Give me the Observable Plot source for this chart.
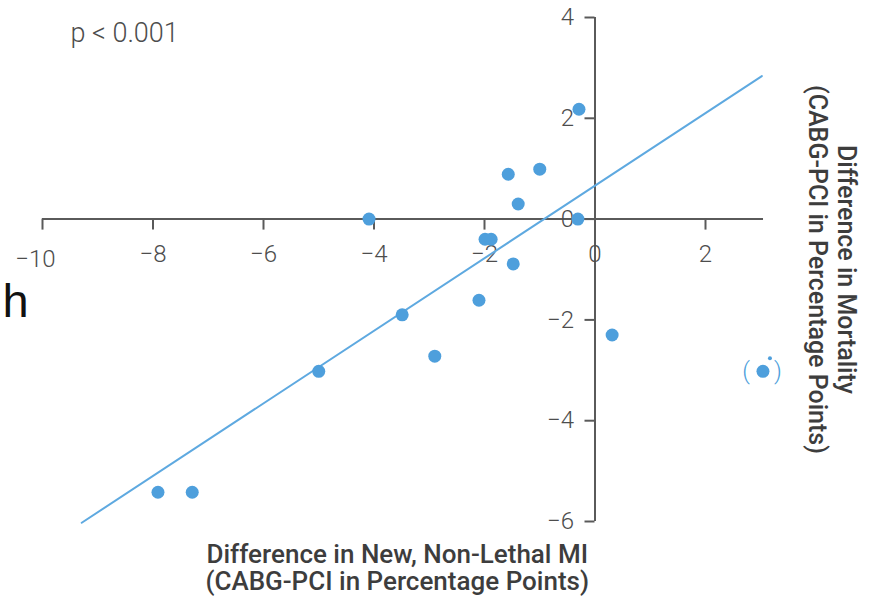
<!DOCTYPE html>
<html>
<head>
<meta charset="utf-8">
<script src="https://cdn.jsdelivr.net/npm/d3@7"></script>
<script src="https://cdn.jsdelivr.net/npm/@observablehq/plot@0.6"></script>
<style>
  html, body { margin: 0; padding: 0; background: #ffffff; }
  #chart { width: 869px; height: 599px; overflow: hidden; }
  #chart svg { overflow: visible; }
</style>
</head>
<body>
<div id="chart"></div>
<script>
// ---- Data ----
const newMI     = [-0.29, -1.0, -1.57, -1.39, -4.09, -0.31, -1.99, -1.88, -1.48, -2.10, -3.49, -2.90, 0.31, -5.0, -7.91, -7.29];
const mortality = [ 2.18,  0.99, 0.89,  0.30,  0.0,   0.0,  -0.40, -0.40, -0.89, -1.61, -1.90, -2.72, -2.30, -3.02, -5.42, -5.42];
const outlierMI = [3.04];
const outlierMortality = [-3.02];
const xTicks = [-10, -8, -6, -4, -2, 0, 2];
const yTicks = [4, 2, 0, -2, -4, -6];
const fitSlope = 0.72;
const fitIntercept = 0.664;
const fitRange = [-9.29, 3.02];
const xAxisExtent = [-10, 3.05];
const yAxisExtent = [-6, 4];
const pLabel = ["p < 0.001"];
const xTitle = ["Difference in New, Non-Lethal MI\n(CABG-PCI in Percentage Points)"];
const yTitle = ["Difference in Mortality\n(CABG-PCI in Percentage Points)"];
const strayLetter = ["h"];

// ---- Derived tables ----
const points = newMI.map((x, i) => ({x, y: mortality[i]}));
const outlier = outlierMI.map((x, i) => ({x, y: outlierMortality[i]}));
const fit = fitRange.map(x => ({x, y: fitSlope * x + fitIntercept}));
const fmt = d => (d < 0 ? "\u2212" + Math.abs(d) : String(d));

const axisColor = "#5a5a5a";
const textColor = "#4d4d4d";
const titleColor = "#3d3d3d";
const blue = "#4e9fdc";
const lineBlue = "#5ea9e0";
const tickFont = "Roboto, 'Open Sans', sans-serif";
const titleFont = "Roboto, 'Open Sans', sans-serif";

const chart = Plot.plot({
  width: 869,
  height: 599,
  marginLeft: 42,
  marginRight: 53.5,
  marginTop: 17,
  marginBottom: 78,
  x: {domain: [-10, 4], axis: null},
  y: {domain: [-6, 4], axis: null},
  style: {background: "transparent", overflow: "visible"},
  marks: [
    // axis lines crossing at origin
    Plot.ruleY([0], {x1: xAxisExtent[0], x2: xAxisExtent[1], stroke: axisColor, strokeWidth: 2}),
    Plot.ruleX([0], {y1: yAxisExtent[0], y2: yAxisExtent[1], stroke: axisColor, strokeWidth: 2}),
    // tick marks
    Plot.ruleX(xTicks, {x: d => d, y1: 0, y2: 0, insetBottom: -11, stroke: axisColor, strokeWidth: 2}),
    Plot.ruleY(yTicks, {y: d => d, x1: 0, x2: 0, insetLeft: -10, stroke: axisColor, strokeWidth: 2}),
    // tick labels
    Plot.text(xTicks.filter(d => d !== -10), {x: d => d, y: 0, text: fmt, dy: 35, lineAnchor: "middle",
      fontSize: 24, fontFamily: tickFont, fontWeight: 300, fill: textColor}),
    Plot.text(xTicks.filter(d => d === -10), {x: d => d, y: 0, text: fmt, dx: -7, dy: 40, lineAnchor: "middle",
      fontSize: 24, fontFamily: tickFont, fontWeight: 300, fill: textColor}),
    Plot.text(yTicks, {x: 0, y: d => d, text: fmt, dx: -21, textAnchor: "end", lineAnchor: "middle",
      fontSize: 24, fontFamily: tickFont, fontWeight: 300, fill: textColor}),
    // p-value annotation
    Plot.text(pLabel, {frameAnchor: "top-left", text: d => d, dx: 28, dy: 16, textAnchor: "start", lineAnchor: "middle",
      fontSize: 27, fontFamily: tickFont, fontWeight: 300, fill: textColor}),
    // axis titles
    Plot.text(xTitle, {frameAnchor: "bottom", text: d => d, dx: -32, dy: 46, textAnchor: "middle", lineAnchor: "middle", lineHeight: 1.05,
      fontSize: 26, fontFamily: titleFont, fontWeight: 500, fill: titleColor}),
    Plot.text(yTitle, {frameAnchor: "right", text: d => d, rotate: 90, dx: 17, dy: 0, textAnchor: "middle", lineAnchor: "middle", lineHeight: 1.15,
      fontSize: 25, fontFamily: titleFont, fontWeight: 500, fill: titleColor}),
    // stray letter at left edge
    Plot.text(strayLetter, {frameAnchor: "top-left", text: d => d, dx: -40, dy: 299, textAnchor: "start", lineAnchor: "bottom",
      fontSize: 47, fontFamily: "'Liberation Sans', Arial, sans-serif", fill: "#111"}),
    // regression line
    Plot.line(fit, {x: "x", y: "y", stroke: lineBlue, strokeWidth: 2}),
    // points
    Plot.dot(points, {x: "x", y: "y", r: 6.5, fill: blue}),
    // parenthesized outlier
    Plot.dot(outlier, {x: "x", y: "y", r: 6.5, fill: blue}),
    Plot.dot(outlier, {x: "x", y: "y", r: 2, dx: 7, dy: -13, fill: blue}),
    Plot.text(outlier, {x: "x", y: "y", text: () => "(", dx: -17, lineAnchor: "middle", fontSize: 24, fontFamily: tickFont, fontWeight: 300, fill: blue}),
    Plot.text(outlier, {x: "x", y: "y", text: () => ")", dx: 15, lineAnchor: "middle", fontSize: 24, fontFamily: tickFont, fontWeight: 300, fill: blue})
  ]
});
document.getElementById("chart").appendChild(chart);
</script>
</body>
</html>
